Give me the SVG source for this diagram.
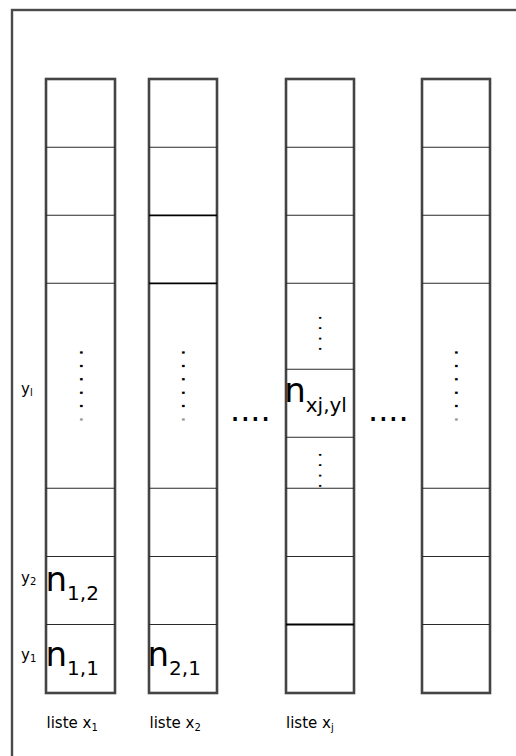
<svg xmlns="http://www.w3.org/2000/svg" width="516" height="756" viewBox="0 0 516 756">
<style>
  .frame { fill: none; stroke: #4a4a4a; stroke-width: 2.4; }
  .col { fill: #fff; stroke: #444; stroke-width: 2.6; }
  .row { stroke: #2a2a2a; stroke-width: 1.1; }
  .rowb { stroke: #000; stroke-width: 1.8; }
  text { font-family: "DejaVu Sans", "Liberation Sans", sans-serif; fill: #000; }
  .big { font-size: 34px; }
  .sub { font-size: 20px; }
  .lab { font-size: 15px; }
  .labs { font-size: 10px; }
  .vd { font-size: 22px; letter-spacing: 6.4px; }
  .vd2 { font-size: 18px; letter-spacing: 4.6px; }
  .hd { font-size: 32px; }
</style>
<rect class="frame" x="12" y="10" width="520" height="770"/>

<g id="col1">
  <rect class="col" x="46" y="79" width="69" height="614"/>
  <line class="row" x1="46" y1="147.3" x2="115" y2="147.3"/>
  <line class="row" x1="46" y1="215.3" x2="115" y2="215.3"/>
  <line class="row" x1="46" y1="283.3" x2="115" y2="283.3"/>
  <line class="row" x1="46" y1="488.3" x2="115" y2="488.3"/>
  <line class="row" x1="46" y1="556.5" x2="115" y2="556.5"/>
  <line class="row" x1="46" y1="624.5" x2="115" y2="624.5"/>
  <text class="vd" transform="translate(79.5,349) rotate(90)">.....<tspan fill="#999">.</tspan></text>
  <text class="big" x="45.5" y="590.5">n<tspan class="sub" dy="9">1,2</tspan></text>
  <text class="big" x="45.5" y="666">n<tspan class="sub" dy="9">1,1</tspan></text>
</g>

<g id="col2">
  <rect class="col" x="149" y="79" width="68" height="614"/>
  <line class="row" x1="149" y1="147.3" x2="217" y2="147.3"/>
  <line class="rowb" x1="149" y1="215.3" x2="217" y2="215.3"/>
  <line class="rowb" x1="149" y1="283.3" x2="217" y2="283.3"/>
  <line class="row" x1="149" y1="488.3" x2="217" y2="488.3"/>
  <line class="row" x1="149" y1="556.5" x2="217" y2="556.5"/>
  <line class="row" x1="149" y1="624.5" x2="217" y2="624.5"/>
  <text class="vd" transform="translate(181.5,349) rotate(90)">.....<tspan fill="#999">.</tspan></text>
  <text class="big" x="147.5" y="666">n<tspan class="sub" dy="9">2,1</tspan></text>
</g>

<g id="col3">
  <rect class="col" x="286" y="79" width="68" height="614"/>
  <line class="row" x1="286" y1="147.3" x2="354" y2="147.3"/>
  <line class="row" x1="286" y1="215.3" x2="354" y2="215.3"/>
  <line class="row" x1="286" y1="283.3" x2="354" y2="283.3"/>
  <line class="row" x1="286" y1="369.3" x2="354" y2="369.3"/>
  <line class="row" x1="286" y1="437.3" x2="354" y2="437.3"/>
  <line class="row" x1="286" y1="488.3" x2="354" y2="488.3"/>
  <line class="row" x1="286" y1="556.5" x2="354" y2="556.5"/>
  <line class="rowb" x1="286" y1="624.5" x2="354" y2="624.5"/>
  <text class="vd2" transform="translate(318.5,315) rotate(90)">....</text>
  <text class="vd2" transform="translate(318.5,452) rotate(90)">....</text>
  <text class="big" x="284.2" y="401.5">n<tspan class="sub" dy="10">xj,yl</tspan></text>
</g>

<g id="col4">
  <rect class="col" x="422" y="79" width="68" height="614"/>
  <line class="row" x1="422" y1="147.3" x2="490" y2="147.3"/>
  <line class="row" x1="422" y1="215.3" x2="490" y2="215.3"/>
  <line class="row" x1="422" y1="283.3" x2="490" y2="283.3"/>
  <line class="row" x1="422" y1="488.3" x2="490" y2="488.3"/>
  <line class="row" x1="422" y1="556.5" x2="490" y2="556.5"/>
  <line class="row" x1="422" y1="624.5" x2="490" y2="624.5"/>
  <text class="vd" transform="translate(455,349) rotate(90)">.....<tspan fill="#999">.</tspan></text>
</g>

<g id="ellipses">
  <text class="hd" x="230" y="421">....</text>
  <text class="hd" x="368" y="421">....</text>
</g>

<g id="labels">
  <text class="lab" x="21" y="394">y<tspan class="labs" dy="2">l</tspan></text>
  <text class="lab" x="21" y="583">y<tspan class="labs" dy="2">2</tspan></text>
  <text class="lab" x="21" y="660">y<tspan class="labs" dy="2">1</tspan></text>
  <text class="lab" x="46.5" y="728">liste x<tspan class="labs" dy="3">1</tspan></text>
  <text class="lab" x="149.5" y="728">liste x<tspan class="labs" dy="3">2</tspan></text>
  <text class="lab" x="286" y="728">liste x<tspan class="labs" dy="3">j</tspan></text>
</g>
</svg>
